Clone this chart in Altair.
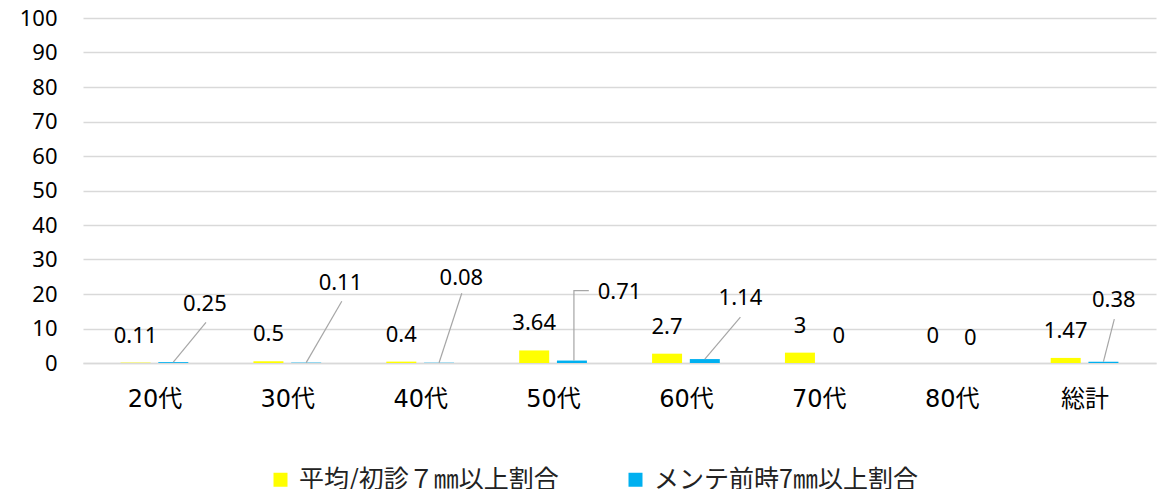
import altair as alt
import pandas as pd

# ---- data ----
categories = ["20代", "30代", "40代", "50代", "60代", "70代", "80代", "総計"]
series_names = ["平均/初診７㎜以上割合", "メンテ前時7㎜以上割合"]
yellow_values = [0.11, 0.5, 0.4, 3.64, 2.7, 3, 0, 1.47]
blue_values = [0.25, 0.11, 0.08, 0.71, 1.14, 0, 0, 0.38]
series_colors = ["#FFFF00", "#00B0F0"]
y_ticks = [0, 10, 20, 30, 40, 50, 60, 70, 80, 90, 100]

# blue data labels were moved by hand in the original (group-width shift, value-axis height)
blue_label_shift = [0.38, 0.40, 0.31, 0.50, 0.41, 0.15, 0.14, 0.22]
blue_label_y = [17.0, 23.1, 24.5, 20.7, 18.7, 7.8, 7.2, 18.4]
# leader lines: category index -> points (group-width shift, value-axis height)
leader_paths = {
    0: [(0.142, 0.25), (0.388, 11.8)],
    1: [(0.142, 0.11), (0.41, 17.9)],
    2: [(0.142, 0.08), (0.313, 20.2)],
    3: [(0.157, 0.71), (0.157, 21.0), (0.269, 21.0)],
    4: [(0.142, 1.14), (0.41, 13.3)],
    7: [(0.142, 0.38), (0.224, 12.7)],
}

BAR_SHIFT = 0.142  # half distance between the two bars of a group, in group widths

rows = []
for i, c in enumerate(categories):
    rows.append({"cat": c, "series": series_names[0], "x": i + 0.5 - BAR_SHIFT,
                 "value": yellow_values[i], "label": f"{yellow_values[i]:g}"})
    rows.append({"cat": c, "series": series_names[1], "x": i + 0.5 + BAR_SHIFT,
                 "value": blue_values[i], "label": f"{blue_values[i]:g}"})
bars_df = pd.DataFrame(rows)
yellow_df = bars_df[bars_df.series == series_names[0]]

blue_lab_df = pd.DataFrame({
    "x": [i + 0.5 + s for i, s in enumerate(blue_label_shift)],
    "y": blue_label_y,
    "label": [f"{v:g}" for v in blue_values],
})

lrows = []
for i, pts in leader_paths.items():
    for k, (s, yv) in enumerate(pts):
        lrows.append({"cat": categories[i], "order": k, "x": i + 0.5 + s, "y": yv})
leader_df = pd.DataFrame(lrows)

label_expr = "[" + ",".join(f"'{c}'" for c in categories) + "][round(datum.value - 0.5)]"

x_scale = alt.Scale(domain=[0, len(categories)], nice=False, zero=False)
y_scale = alt.Scale(domain=[0, 100], nice=False)

x_axis = alt.Axis(
    title=None, values=[i + 0.5 for i in range(len(categories))], labelExpr=label_expr,
    grid=False, ticks=False, domain=True, domainColor="#D9D9D9", domainWidth=1.3,
    labelFont="DejaVu Sans, Noto Sans CJK JP", labelFontSize=24, labelColor="#000000",
    labelPadding=24,
)
y_axis = alt.Axis(
    title=None, values=y_ticks, grid=True, gridColor="#D9D9D9", gridWidth=1.3,
    ticks=False, tickSize=0, domain=False, labelFont="Noto Sans", labelFontSize=22,
    labelColor="#000000", labelPadding=26, labelOverlap=False, labelBound=False,
)

X = alt.X("x:Q", scale=x_scale, axis=x_axis)

bars = alt.Chart(bars_df).mark_bar(size=30, orient="vertical").encode(
    x=X,
    y=alt.Y("value:Q", scale=y_scale, axis=y_axis),
    color=alt.Color("series:N", scale=alt.Scale(domain=series_names, range=series_colors),
                    legend=alt.Legend(title=None, orient="none", legendX=185, legendY=449,
                                      direction="horizontal", symbolType="square",
                                      symbolSize=196, symbolStrokeWidth=0, labelOffset=6,
                                      columnPadding=64, labelFont="Noto Sans CJK JP",
                                      labelFontSize=25, labelColor="#222222", labelLimit=400)),
)

yellow_text = alt.Chart(yellow_df).mark_text(dy=-27, font="Noto Sans", fontSize=22, color="#000000").encode(
    x=X, y=alt.Y("value:Q", scale=y_scale, axis=y_axis), text="label:N"
)

blue_text = alt.Chart(blue_lab_df).mark_text(font="Noto Sans", fontSize=22, color="#000000").encode(
    x=X, y=alt.Y("y:Q", scale=y_scale, axis=y_axis), text="label:N"
)

leaders = alt.Chart(leader_df).mark_line(color="#A6A6A6", strokeWidth=1.2).encode(
    x=X, y=alt.Y("y:Q", scale=y_scale, axis=y_axis),
    detail="cat:N", order="order:Q"
)

chart = alt.layer(bars, leaders, yellow_text, blue_text).properties(
    width=1073, height=345,
    autosize=alt.AutoSizeParams(type="none"),
    padding={"left": 75, "top": 10, "right": 9, "bottom": 126},
).configure_view(stroke=None)

chart.save("out.html", embed_options={"renderer": "svg", "actions": False})
